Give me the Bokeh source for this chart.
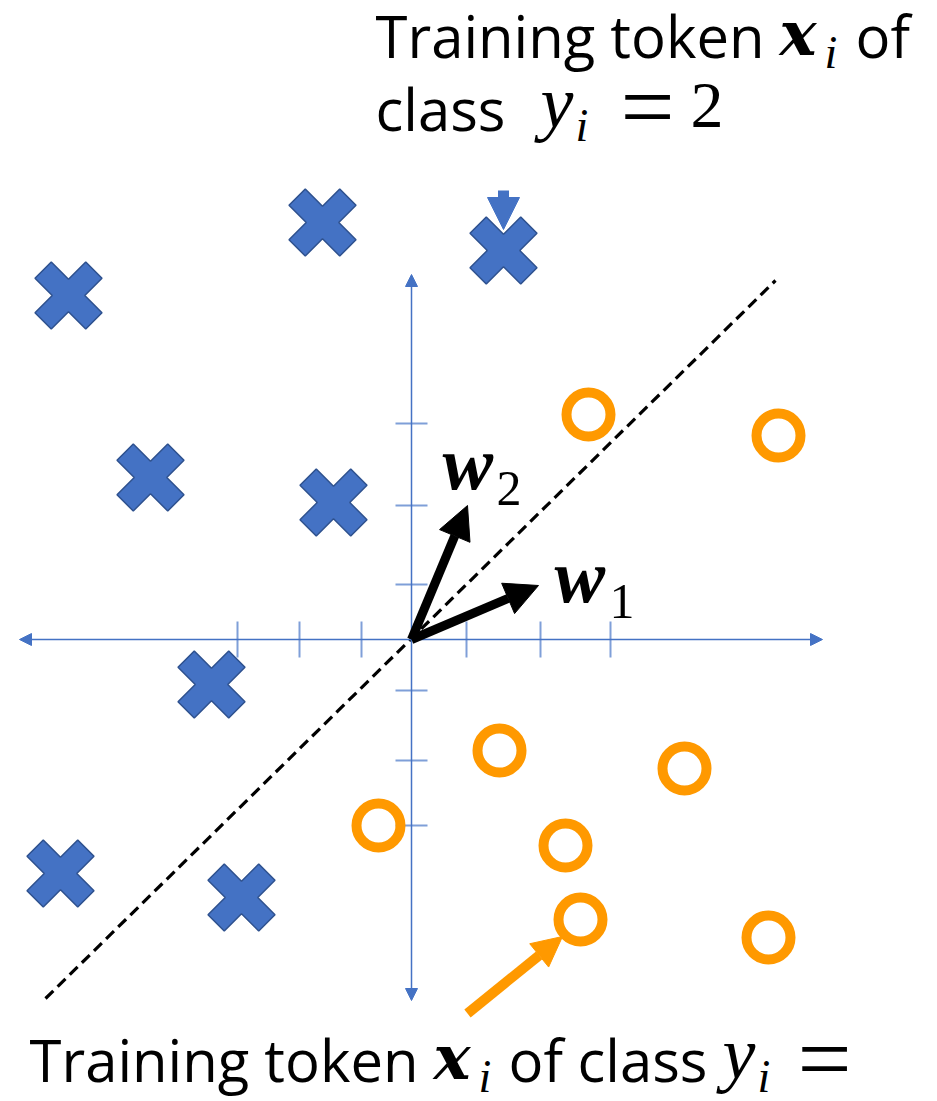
from bokeh.plotting import figure
from bokeh.models import Range1d, Arrow, NormalHead, Label
from bokeh.embed import file_html
from bokeh.resources import INLINE

# ---------------- data (units: pixels relative to the axis origin, y up) -------------
# class y=2 training tokens (blue crosses)
class2_x = [-343, -89, 92, -261, -78, -200, -351, -170]
class2_y = [344, 417, 389, 162, 137, -45, -234, -258]
# class y=1 training tokens (orange circles)
class1_x = [177, 367, 88, 273, -33, 154, 169, 357]
class1_y = [225, 204, -111, -129, -186, -206, -280, -298]
# tick positions on the axes
xticks = [-174, -112, -50, 55, 129, 199]
yticks = [216, 134, 55, -51, -121, -186]
# axis extents
x_axis_ends = [-392, 411]
y_axis_ends = [-361, 365]
# decision boundary
boundary_x = [-366, 364]
boundary_y = [-359, 359]
# weight vectors
w_labels = ["1", "2"]
w_x = [127, 56]
w_y = [54, 134]

# ---------------- styles -------------
BLUE = "#4472C4"
BLUE_EDGE = "#2F528F"
TICK = "#7F9FD8"
ORANGE = "#FF9900"
OX, OY = 411, 639  # origin in page pixels
W, H = 937, 1101
K = 0.43  # baseline correction factor


def px(X, Y):
    """convert page pixel position to data coordinates"""
    return X - OX, OY - Y


p = figure(width=W, height=H,
           x_range=Range1d(-OX, W - OX), y_range=Range1d(OY - H, OY),
           output_backend="svg", toolbar_location=None, min_border=0)
p.axis.visible = False
p.grid.visible = False
p.outline_line_color = None
p.background_fill_color = "white"
p.border_fill_color = "white"


def head(c, s):
    return NormalHead(size=s, fill_color=c, line_color=c, line_width=1)


# axes with arrow heads
p.add_layout(Arrow(start=head(BLUE, 12), end=head(BLUE, 12),
                   x_start=x_axis_ends[0], y_start=0, x_end=x_axis_ends[1], y_end=0,
                   line_color=BLUE, line_width=1.5))
p.add_layout(Arrow(start=head(BLUE, 12), end=head(BLUE, 12),
                   x_start=0, y_start=y_axis_ends[0], x_end=0, y_end=y_axis_ends[1],
                   line_color=BLUE, line_width=1.5))
# ticks
p.segment(x0=xticks, y0=[-18] * len(xticks), x1=xticks, y1=[18] * len(xticks),
          line_color=TICK, line_width=2)
p.segment(x0=[-16] * len(yticks), y0=yticks, x1=[16] * len(yticks), y1=yticks,
          line_color=TICK, line_width=2)

# decision boundary
p.line(boundary_x, boundary_y, line_color="black", line_width=3.2, line_dash="11 6")

# blue crosses (thick multiply shape)
a, t = 33.5, 23.0
c = t / 2 ** 0.5
e = a - c
shape = [(0, c), (e, a), (a, e), (c, 0), (a, -e), (e, -a), (0, -c), (-e, -a),
         (-a, -e), (-c, 0), (-a, e), (-e, a)]
xs = [[cx + sx for sx, sy in shape] for cx in class2_x]
ys = [[cy + sy for sx, sy in shape] for cy in class2_y]
p.patches(xs, ys, fill_color=BLUE, line_color=BLUE_EDGE, line_width=1.5)

# orange circles
p.scatter(class1_x, class1_y, marker="circle", size=44, fill_color=None,
          line_color=ORANGE, line_width=10)

# weight vectors
for wx, wy in zip(w_x, w_y):
    p.add_layout(Arrow(end=head("black", 33), x_start=0, y_start=0, x_end=wx, y_end=wy,
                       line_color="black", line_width=9))

# callout arrows
bx0, by0 = px(503, 190)
bx1, by1 = px(503, 229)
p.add_layout(Arrow(end=head(BLUE, 32), x_start=bx0, y_start=by0, x_end=bx1, y_end=by1,
                   line_color=BLUE, line_width=11))
ox0, oy0 = px(467, 1013)
ox1, oy1 = px(562, 936)
p.add_layout(Arrow(end=head(ORANGE, 30), x_start=ox0, y_start=oy0, x_end=ox1, y_end=oy1,
                   line_color=ORANGE, line_width=10))

# ---------------- text -------------
SANS = "Open Sans"
SERIF = "Liberation Serif"
MATHB = "DejaVu Serif"


def txt(s, X, Y, size, font=SANS, style="normal"):
    x, y = px(X, Y)
    p.add_layout(Label(x=x, y=y + K * size, text=s, text_font=font,
                       text_font_size=f"{size}px", text_font_style=style,
                       text_baseline="alphabetic", text_align="left",
                       text_color="black"))


FS = 58
# top annotation
txt("Training token", 375, 60, FS)
txt("x", 779, 60, 62, MATHB, "bold italic")
txt("i", 824, 72, 46, SERIF, "italic")
txt("of", 855, 60, FS)
txt("class", 375, 133, FS)
txt("y", 540, 133, 74, SERIF, "italic")
txt("i", 575, 145, 46, SERIF, "italic")
txt("=", 620, 147, 96, SERIF)
txt("2", 690, 133, 66, SERIF)

# bottom annotation
txt("Training token", 29, 1084, FS)
txt("x", 433, 1084, 62, MATHB, "bold italic")
txt("i", 478, 1096, 46, SERIF, "italic")
txt("of", 508, 1084, FS)
txt("class", 577, 1084, FS)
txt("y", 722, 1084, 74, SERIF, "italic")
txt("i", 757, 1096, 46, SERIF, "italic")
txt("=", 797, 1099, 96, SERIF)

# weight labels
txt("w", 442, 495, 76, SERIF, "bold italic")
txt("2", 496, 509, 50, SERIF)
txt("w", 554, 608, 76, SERIF, "bold italic")
txt("1", 609, 622, 50, SERIF)

open("out.html", "w").write(file_html(p, INLINE))
